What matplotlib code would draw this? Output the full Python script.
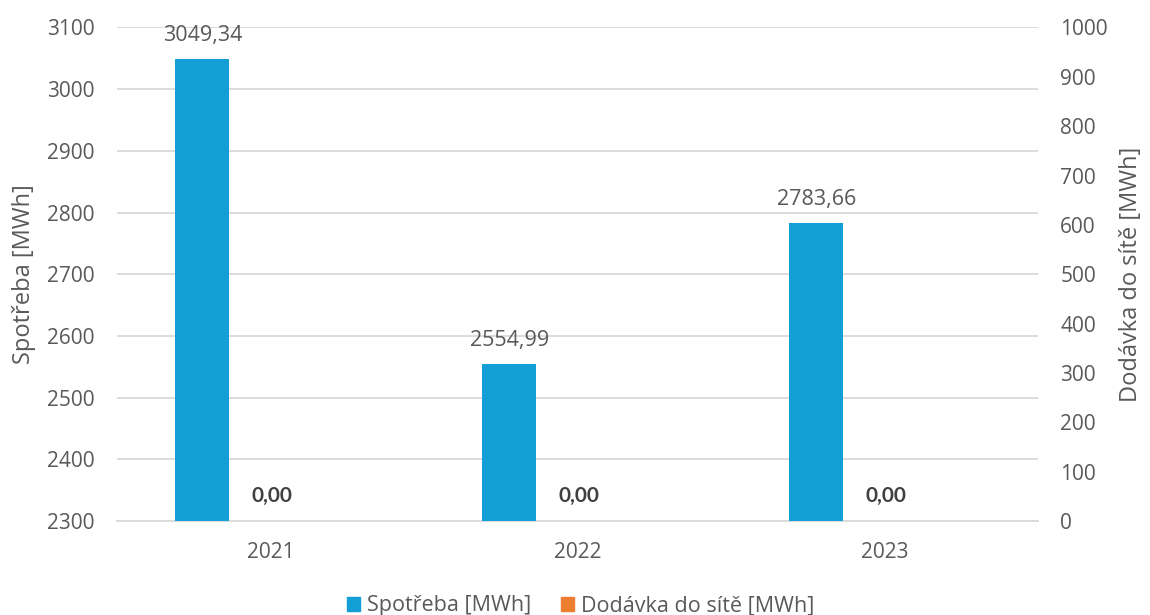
import numpy as np
import matplotlib.pyplot as plt
from matplotlib.patches import Patch

plt.rcParams['font.family'] = ['Open Sans', 'DejaVu Sans']

years = ["2021", "2022", "2023"]
spotreba = [3049.34, 2554.99, 2783.66]
dodavka = [0.0, 0.0, 0.0]

blue = '#139ED6'
orange = '#ED7D31'
txt = '#595959'
grid = '#D9D9D9'

fig = plt.figure(figsize=(11.5, 6.15), dpi=100)
ax1 = fig.add_axes([0.1017, 0.1528, 0.8009, 0.8025])
ax2 = ax1.twinx()

x = np.arange(len(years))
w = 0.176
ax1.bar(x - 0.222, np.array(spotreba) - 2300, bottom=2300, width=w, color=blue, zorder=3)
ax2.bar(x + 0.0, dodavka, width=w, color=orange, zorder=3)

ax1.set_ylim(2300, 3100)
ax1.set_yticks(np.arange(2300, 3101, 100))
ax2.set_ylim(0, 1000)
ax2.set_yticks(np.arange(0, 1001, 100))
ax1.set_xlim(-0.5, 2.5)
ax1.set_xticks(x)
ax1.set_xticklabels(years)

ax1.yaxis.grid(True, color=grid, linewidth=1.3, zorder=0)
ax1.set_axisbelow(True)
for a in (ax1, ax2):
    for s in a.spines.values():
        s.set_visible(False)
    a.tick_params(length=0, labelsize=15, colors=txt)
ax1.spines['bottom'].set_visible(True)
ax1.spines['bottom'].set_color(grid)
ax1.spines['bottom'].set_linewidth(1.3)
ax1.tick_params(axis='x', pad=15)
ax1.tick_params(axis='y', pad=16)
ax2.tick_params(axis='y', pad=16)

ax1.set_ylabel("Spotřeba [MWh]", fontsize=17, color=txt, labelpad=8)
ax2.set_ylabel("Dodávka do sítě [MWh]", fontsize=17, color=txt, labelpad=8)

for xi, v in zip(x, spotreba):
    ax1.annotate(f"{v:.2f}".replace('.', ','), (xi - 0.222, v), xytext=(0, 9),
                 textcoords='offset points', ha='center', va='bottom',
                 fontsize=15.5, color=txt)
for xi, v in zip(x, dodavka):
    ax2.annotate(f"{v:.2f}".replace('.', ','), (xi + 0.005, v), xytext=(0, 11),
                 textcoords='offset points', ha='center', va='bottom',
                 fontsize=15, color='#404040', fontweight='bold',
                 family=['Lato', 'DejaVu Sans'])

handles = [Patch(color=blue), Patch(color=orange)]
fig.legend(handles, ["Spotřeba [MWh]", "Dodávka do sítě [MWh]"],
           loc='center', bbox_to_anchor=(0.505, 0.015), ncol=2, frameon=False,
           fontsize=15.5, labelcolor=txt, handlelength=0.6, handleheight=0.6,
           handletextpad=0.3, columnspacing=1.4)

fig.savefig("out.png", dpi=100)
